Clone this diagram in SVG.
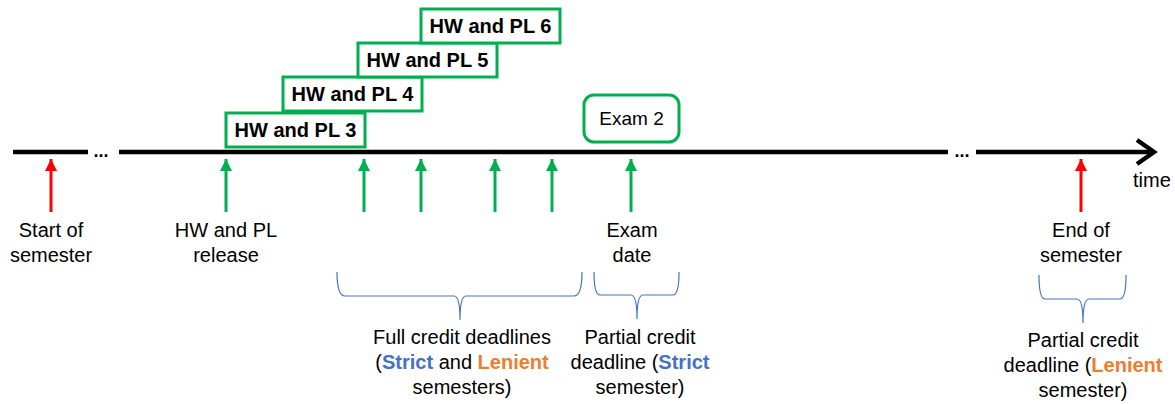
<svg xmlns="http://www.w3.org/2000/svg" width="1175" height="404" viewBox="0 0 1175 404">
<defs>
<style>
text{font-family:"Liberation Sans",Arial,sans-serif;fill:#000}
.lbl{font-size:20px;text-anchor:middle}
.box{fill:#fff;stroke:#00B050;stroke-width:3}
.bt{font-size:20px;font-weight:bold;text-anchor:middle}
.tl{stroke:#000;stroke-width:4.5;fill:none}
.ga{stroke:#00B050;stroke-width:3;fill:none}
.ra{stroke:#FF0000;stroke-width:3;fill:none}
.br{stroke:#4472C4;stroke-width:1.2;fill:none}
.dots{font-size:18px;font-weight:bold;text-anchor:middle}
.s{fill:#4472C4;font-weight:bold}
.l{fill:#ED7D31;font-weight:bold}
</style>
<marker id="gh" viewBox="0 0 10 10" refX="10" refY="5" markerWidth="4" markerHeight="4" orient="auto" markerUnits="strokeWidth">
<path d="M0,0 L10,5 L0,10 Z" fill="#00B050"/>
</marker>
<marker id="rh" viewBox="0 0 10 10" refX="10" refY="5" markerWidth="4" markerHeight="4" orient="auto" markerUnits="strokeWidth">
<path d="M0,0 L10,5 L0,10 Z" fill="#FF0000"/>
</marker>
</defs>

<g id="timeline">
<line class="tl" x1="13" y1="152" x2="88" y2="152"/>
<text class="dots" x="101" y="157">...</text>
<line class="tl" x1="119" y1="152" x2="948" y2="152"/>
<text class="dots" x="962" y="157">...</text>
<line class="tl" x1="976" y1="152" x2="1152" y2="152"/>
<polyline class="tl" points="1137,140 1154,152 1137,164"/>
<text x="1133" y="187" style="font-size:20px">time</text>
</g>

<g id="connectors">
<line class="ra" x1="51" y1="212" x2="51" y2="159" marker-end="url(#rh)"/>
<line class="ga" x1="226" y1="212" x2="226" y2="159" marker-end="url(#gh)"/>
<line class="ga" x1="364" y1="212" x2="364" y2="159" marker-end="url(#gh)"/>
<line class="ga" x1="421" y1="212" x2="421" y2="159" marker-end="url(#gh)"/>
<line class="ga" x1="495" y1="212" x2="495" y2="159" marker-end="url(#gh)"/>
<line class="ga" x1="552" y1="212" x2="552" y2="159" marker-end="url(#gh)"/>
<line class="ga" x1="631" y1="212" x2="631" y2="159" marker-end="url(#gh)"/>
<line class="ra" x1="1081" y1="212" x2="1081" y2="159" marker-end="url(#rh)"/>
</g>

<g id="hw3">
<rect class="box" x="226" y="113" width="139" height="34"/>
<text class="bt" x="295.5" y="137">HW and PL 3</text>
</g>
<g id="hw4">
<rect class="box" x="283" y="77" width="139" height="34"/>
<text class="bt" x="352.5" y="101">HW and PL 4</text>
</g>
<g id="hw5">
<rect class="box" x="358" y="43" width="139" height="34"/>
<text class="bt" x="427.5" y="67">HW and PL 5</text>
</g>
<g id="hw6">
<rect class="box" x="421" y="9" width="139" height="34"/>
<text class="bt" x="490.5" y="33">HW and PL 6</text>
</g>
<g id="exam2">
<rect class="box" x="584" y="95" width="95" height="47" rx="10"/>
<text x="631.5" y="125" style="font-size:19px;text-anchor:middle">Exam 2</text>
</g>

<g id="start">
<text class="lbl" x="51" y="237">Start of</text>
<text class="lbl" x="51" y="262">semester</text>
</g>
<g id="release">
<text class="lbl" x="226" y="237">HW and PL</text>
<text class="lbl" x="226" y="262">release</text>
</g>
<g id="examdate">
<text class="lbl" x="632" y="237">Exam</text>
<text class="lbl" x="632" y="262">date</text>
</g>
<g id="end">
<text class="lbl" x="1081" y="237">End of</text>
<text class="lbl" x="1081" y="262">semester</text>
</g>

<g id="braces">
<path class="br" d="M337,272 Q337,296 345,296 L454,296 Q460,296 460,320 Q460,296 466,296 L574,296 Q582,296 582,272"/>
<path class="br" d="M594,272 Q594,295 600,295 L631,295 Q637,295 637,319 Q637,295 643,295 L673,295 Q679,295 679,272"/>
<path class="br" d="M1039,275 Q1039,299 1045,299 L1077,299 Q1083,299 1083,323 Q1083,299 1089,299 L1120,299 Q1126,299 1126,275"/>
</g>

<g id="full">
<text class="lbl" x="462" y="344">Full credit deadlines</text>
<text class="lbl" x="462" y="369">(<tspan class="s">Strict</tspan> and <tspan class="l">Lenient</tspan></text>
<text class="lbl" x="462" y="394">semesters)</text>
</g>
<g id="partial-strict">
<text class="lbl" x="640" y="344">Partial credit</text>
<text class="lbl" x="640" y="369">deadline (<tspan class="s">Strict</tspan></text>
<text class="lbl" x="640" y="394">semester)</text>
</g>
<g id="partial-lenient">
<text class="lbl" x="1083" y="347">Partial credit</text>
<text class="lbl" x="1083" y="372">deadline (<tspan class="l">Lenient</tspan></text>
<text class="lbl" x="1083" y="397">semester)</text>
</g>
</svg>
